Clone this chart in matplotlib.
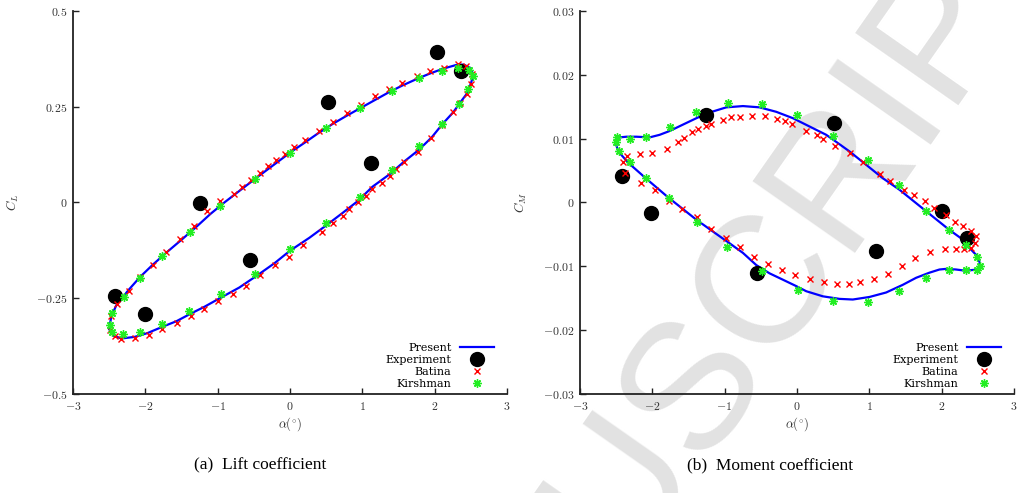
import numpy as np
import matplotlib
matplotlib.use("Agg")
import matplotlib.pyplot as plt

plt.rcParams['mathtext.fontset'] = 'cm'
plt.rcParams['font.family'] = ['DejaVu Serif']

# ---- lift coefficient (left) ----
lift_present_alpha = [-2.50, -2.47, -2.40, -2.23, -2.07, -1.90, -1.71, -1.51, -1.32, -1.10,
                      -0.90, -0.66, -0.41, -0.19, 0.00, 0.21, 0.40, 0.59, 0.78, 0.98,
                      1.17, 1.37, 1.55, 1.76, 1.94, 2.13, 2.30, 2.40, 2.48, 2.52,
                      2.52, 2.50, 2.45, 2.35, 2.26, 2.11, 1.96, 1.78, 1.58, 1.38,
                      1.14, 0.94, 0.73, 0.50, 0.27, 0.00, -0.21, -0.45, -0.70, -0.99,
                      -1.18, -1.37, -1.57, -1.77, -1.97, -2.15, -2.33, -2.43, -2.48, -2.50]
lift_present_cl = [-0.330, -0.297, -0.268, -0.228, -0.194, -0.163, -0.131, -0.099, -0.068, -0.030,
                   0.001, 0.036, 0.072, 0.103, 0.130, 0.157, 0.182, 0.205, 0.226, 0.247,
                   0.267, 0.288, 0.305, 0.323, 0.337, 0.350, 0.359, 0.360, 0.353, 0.340,
                   0.322, 0.310, 0.285, 0.260, 0.236, 0.205, 0.170, 0.137, 0.107, 0.074,
                   0.041, 0.004, -0.027, -0.060, -0.092, -0.126, -0.158, -0.190, -0.222, -0.252,
                   -0.272, -0.290, -0.310, -0.325, -0.341, -0.351, -0.355, -0.349, -0.339, -0.330]

lift_exp_alpha = [2.04, 2.37, 0.53, 1.12, -1.24, -0.55, -2.42, -2.01]
lift_exp_cl = [0.394, 0.342, 0.262, 0.103, -0.002, -0.151, -0.243, -0.290]

lift_batina_alpha = [-1.514, -1.321, -1.150, -0.966, -0.778, -0.663, -0.538, -0.414, -0.308, -0.193,
                     -0.069, 0.060, 0.212, 0.396, 0.589, 0.782, 0.980, 1.173, 1.371, 1.546,
                     1.763, 1.937, 2.131, 2.329, 2.439, 2.513, 2.499, 2.444, 2.347, 2.260,
                     2.108, 1.956, 1.776, 1.578, 1.463, 1.381, 1.270, 1.141, 1.049, 0.943,
                     0.819, 0.727, 0.589, 0.437, 0.184, -0.018, -0.202, -0.414, -0.607, -0.792,
                     -0.989, -1.183, -1.367, -1.565, -1.772, -1.956, -2.149, -2.333, -2.425, -2.494,
                     -2.471, -2.393, -2.232, -2.071, -1.896, -1.712]
lift_batina_cl = [-0.096, -0.061, -0.023, 0.003, 0.023, 0.040, 0.059, 0.078, 0.094, 0.110,
                  0.127, 0.146, 0.163, 0.187, 0.211, 0.233, 0.255, 0.277, 0.296, 0.313,
                  0.329, 0.342, 0.352, 0.362, 0.355, 0.336, 0.310, 0.283, 0.259, 0.235,
                  0.203, 0.168, 0.133, 0.105, 0.087, 0.070, 0.052, 0.035, 0.017, 0.000,
                  -0.017, -0.035, -0.054, -0.078, -0.112, -0.143, -0.163, -0.189, -0.217, -0.238,
                  -0.257, -0.278, -0.297, -0.315, -0.330, -0.347, -0.354, -0.356, -0.348, -0.332,
                  -0.297, -0.265, -0.230, -0.195, -0.163, -0.128]

lift_kirsh_alpha = [-1.376, -0.962, -0.479, 0.000, 0.497, 0.971, 1.404, 1.786, 2.098, 2.329,
                    2.476, 2.531, 2.467, 2.338, 2.098, 1.786, 1.408, 0.971, 0.497, 0.000,
                    -0.479, -0.953, -1.390, -1.772, -2.080, -2.310, -2.457, -2.494, -2.457, -2.301,
                    -2.080, -1.772]
lift_kirsh_cl = [-0.077, -0.008, 0.062, 0.130, 0.194, 0.246, 0.291, 0.324, 0.344, 0.350,
                 0.346, 0.329, 0.296, 0.257, 0.204, 0.148, 0.085, 0.014, -0.054, -0.122,
                 -0.186, -0.238, -0.284, -0.317, -0.337, -0.343, -0.339, -0.321, -0.289, -0.247,
                 -0.196, -0.141]

# ---- moment coefficient (right) ----
mom_present_alpha = [-2.505, -2.449, -2.357, -2.219, -2.035, -1.897, -1.759, -1.575, -1.390, -1.206,
                     -0.976, -0.746, -0.516, -0.285, -0.055, 0.175, 0.405, 0.543, 0.727, 0.958,
                     1.188, 1.418, 1.648, 1.878, 2.109, 2.293, 2.385, 2.477, 2.532, 2.500,
                     2.408, 2.339, 2.201, 2.063, 1.971, 1.832, 1.648, 1.464, 1.234, 1.004,
                     0.773, 0.589, 0.359, 0.129, -0.009, -0.193, -0.378, -0.562, -0.746, -0.930,
                     -1.180, -1.390, -1.780, -2.080, -2.330, -2.470, -2.505]
mom_present_cm = [0.0093, 0.0102, 0.0103, 0.0103, 0.0102, 0.0106, 0.0112, 0.0122, 0.0132, 0.0141,
                  0.0149, 0.0151, 0.0149, 0.0142, 0.0132, 0.0119, 0.0106, 0.0095, 0.0080, 0.0059,
                  0.0038, 0.0020, -0.0001, -0.0022, -0.0043, -0.0058, -0.0071, -0.0082, -0.0095, -0.0105,
                  -0.0106, -0.0107, -0.0105, -0.0104, -0.0105, -0.0110, -0.0118, -0.0129, -0.0141, -0.0148,
                  -0.0152, -0.0151, -0.0147, -0.0139, -0.0131, -0.0121, -0.0111, -0.0098, -0.0079, -0.0064,
                  -0.0044, -0.0027, 0.0008, 0.0037, 0.0062, 0.0080, 0.0093]

mom_exp_alpha = [-1.252, 0.520, -2.417, -2.012, 2.007, 2.353, 1.096, -0.548]
mom_exp_cm = [0.0137, 0.0125, 0.0042, -0.0017, -0.0013, -0.0056, -0.0076, -0.0110]

mom_batina_alpha = [-2.403, -2.348, -2.173, -1.998, -1.796, -1.644, -1.561, -1.446, -1.367, -1.252,
                    -1.183, -1.022, -0.916, -0.783, -0.622, -0.442, -0.272, -0.166, -0.064, 0.129,
                    0.276, 0.359, 0.529, 0.741, 0.912, 1.151, 1.294, 1.487, 1.616, 1.777,
                    1.901, 2.063, 2.192, 2.293, 2.408, 2.477, 2.468, 2.408,
                    -2.371, -2.150, -1.961, -1.768, -1.584, -1.377, -1.183, -0.985, -0.792,
                    2.316, 2.201, 2.049, 1.842, 1.639, 1.455, 1.257, 1.073, 0.879, 0.714,
                    0.552, 0.368, 0.175, -0.023, -0.207, -0.401, -0.594]
mom_batina_cm = [0.0064, 0.0073, 0.0076, 0.0077, 0.0083, 0.0095, 0.0101, 0.0110, 0.0115, 0.0120,
                 0.0123, 0.0129, 0.0134, 0.0134, 0.0135, 0.0135, 0.0131, 0.0128, 0.0123, 0.0112,
                 0.0105, 0.0100, 0.0089, 0.0077, 0.0064, 0.0045, 0.0033, 0.0019, 0.0011, 0.0002,
                 -0.0008, -0.0020, -0.0031, -0.0037, -0.0044, -0.0053, -0.0063, -0.0071,
                 0.0046, 0.0031, 0.0019, 0.0003, -0.0010, -0.0023, -0.0041, -0.0056, -0.0069,
                 -0.0073, -0.0073, -0.0073, -0.0078, -0.0087, -0.0099, -0.0112, -0.0120, -0.0125, -0.0128,
                 -0.0128, -0.0125, -0.0120, -0.0113, -0.0106, -0.0097, -0.0085]

mom_kirsh_alpha = [-2.486, -2.505, -2.463, -2.311, -2.311, -2.081, -1.759, -1.390, -0.953, -0.479,
                   0.005, 0.497, 0.981, 1.409, 1.786, 2.099, 2.339, -2.081, -1.773, -1.381,
                   -0.967, 2.491, 2.532, 2.491, 2.339, 2.099, 1.786, 1.409, 0.981, 0.497,
                   0.014, -0.479]
mom_kirsh_cm = [0.0102, 0.0095, 0.0081, 0.0063, 0.0100, 0.0103, 0.0119, 0.0141, 0.0156, 0.0154,
                0.0137, 0.0104, 0.0066, 0.0027, -0.0013, -0.0043, -0.0067, 0.0038, 0.0007, -0.0030,
                -0.0069, -0.0086, -0.0099, -0.0106, -0.0105, -0.0106, -0.0118, -0.0138, -0.0156, -0.0155,
                -0.0137, -0.0108]

x_ticks = [-3, -2, -1, 0, 1, 2, 3]
lift_ticks = [-0.5, -0.25, 0, 0.25, 0.5]
lift_tick_labels = ['-0.5', '-0.25', '0', '0.25', '0.5']
mom_ticks = [-0.03, -0.02, -0.01, 0, 0.01, 0.02, 0.03]
mom_tick_labels = ['-0.03', '-0.02', '-0.01', '0', '0.01', '0.02', '0.03']

fig = plt.figure(figsize=(10.21, 4.93), dpi=100)

# watermark behind everything
fig.text(0.682, 0.235, 'MANUSCRIPT', rotation=55, fontsize=130, color='#e2e2e2',
         ha='center', va='center', family='Liberation Sans', zorder=-1)

ax1 = fig.add_axes([0.0715, 0.2008, 0.425, 0.777])
ax2 = fig.add_axes([0.568, 0.2008, 0.425, 0.777])


def style(ax, yticks, ylabels, ylab, ylim):
    ax.set_facecolor('none')
    ax.set_xlim(-3, 3)
    ax.set_ylim(*ylim)
    ax.set_xticks(x_ticks)
    ax.set_xticklabels(['$%d$' % t for t in x_ticks])
    ax.set_yticks(yticks)
    ax.set_yticklabels(['$%s$' % s for s in ylabels])
    for s in ['top', 'right']:
        ax.spines[s].set_visible(False)
    for s in ['left', 'bottom']:
        ax.spines[s].set_linewidth(1.3)
        ax.spines[s].set_color('#222222')
    ax.tick_params(direction='in', length=4, width=1.0, color='#222222',
                   labelsize=8.5, labelcolor='#333333', pad=4)
    ax.set_xlabel(r'$\alpha(^{\circ})$', fontsize=9, color='#333333')
    ax.xaxis.set_label_coords(0.5, -0.055)
    ax.set_ylabel(ylab, fontsize=9.5, color='#333333')


def draw(ax, pa, pv, ea, ev, ba, bv, ka, kv):
    ax.plot(pa, pv, color='#0000ff', lw=1.6, label='Present', zorder=2)
    ax.plot(ea, ev, 'o', color='black', ms=10, ls='none', label='Experiment', zorder=3)
    ax.plot(ba, bv, 'x', color='#ff0000', ms=4.5, mew=1.0, ls='none', label='Batina', zorder=4)
    ax.plot(ka, kv, marker=(8, 2, 0), color='#22ee22', ms=6, mew=1.0, ls='none',
            label='Kirshman', zorder=4)
    ax.legend(loc='lower right', frameon=False, markerfirst=False, fontsize=8,
              handlelength=3.0, handletextpad=0.8, labelspacing=0.18,
              bbox_to_anchor=(0.985, -0.005), borderaxespad=0.2)


draw(ax1, lift_present_alpha, lift_present_cl, lift_exp_alpha, lift_exp_cl,
     lift_batina_alpha, lift_batina_cl, lift_kirsh_alpha, lift_kirsh_cl)
style(ax1, lift_ticks, lift_tick_labels, r'$C_L$', (-0.5, 0.5))
ax1.yaxis.set_label_coords(-0.12, 0.5)

draw(ax2, mom_present_alpha, mom_present_cm, mom_exp_alpha, mom_exp_cm,
     mom_batina_alpha, mom_batina_cm, mom_kirsh_alpha, mom_kirsh_cm)
style(ax2, mom_ticks, mom_tick_labels, r'$C_M$', (-0.03, 0.03))
ax2.yaxis.set_label_coords(-0.117, 0.5)

fig.text(0.255, 0.057, '(a)  Lift coefficient', ha='center', va='center',
         fontsize=12.5, family='Liberation Serif')
fig.text(0.754, 0.057, '(b)  Moment coefficient', ha='center', va='center',
         fontsize=12.5, family='Liberation Serif')

fig.savefig('out.png', dpi=100)
